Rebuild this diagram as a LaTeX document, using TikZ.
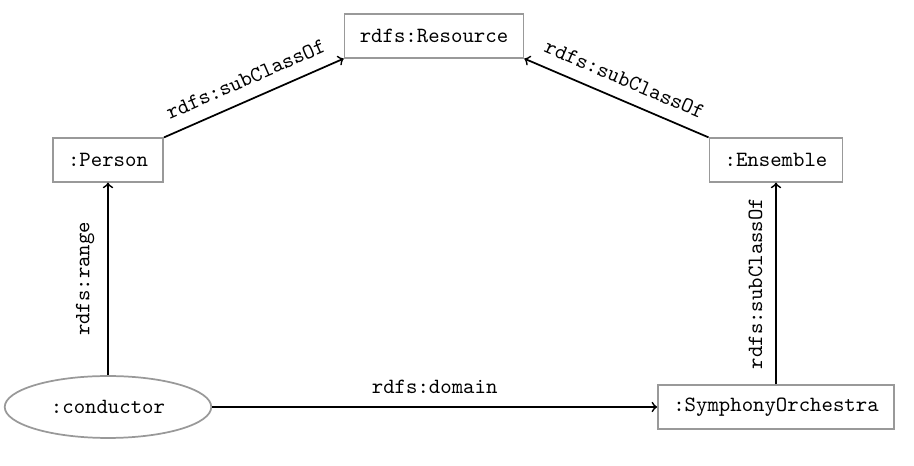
\documentclass[tikz,border=0pt]{standalone}
\usepackage{tikz}
\usetikzlibrary{arrows}
\usetikzlibrary{shapes.geometric}
\tikzstyle{cls}=[rectangle, draw=black!40, thick, font=\ttfamily, inner xsep=7pt, minimum height=20pt]
\tikzstyle{prop}=[ellipse, draw=black!40, thick, font=\ttfamily, inner sep=0pt, minimum width=95pt, minimum height=28.5pt]
\tikzstyle{lbl}=[font=\ttfamily, sloped, above=2.5pt]
\begin{document}
\begin{tikzpicture}[x=0.46pt, y=-0.46pt]
    \useasboundingbox (0,0) rectangle (914,466);
    \node[cls] (res) at (434,36) {rdfs:Resource};
    \node[cls] (pers) at (108,160) {:Person};
    \node[cls] (ens) at (776,160) {:Ensemble};
    \node[prop] (cond) at (108,407) {:conductor};
    \node[cls] (orch) at (776,407) {:SymphonyOrchestra};
    \foreach \from/\to/\lab in
      {pers.north east/res.south west/rdfs:subClassOf,
       ens.north west/res.south east/rdfs:subClassOf,
       cond/pers/rdfs:range,
       cond/orch/rdfs:domain,
       orch/ens/rdfs:subClassOf}
    \draw[->, thick] (\from) -- node[lbl] {\lab} (\to);
\end{tikzpicture}
\end{document}
